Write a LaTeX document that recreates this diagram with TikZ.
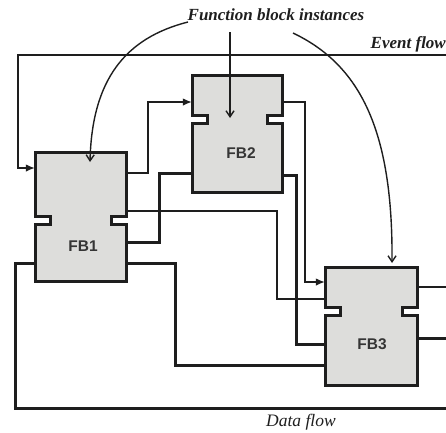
\documentclass[tikz,border=0pt]{standalone}
\usepackage{fontspec}
\setmainfont{Liberation Serif}
\newfontfamily\fbsans{Liberation Sans}
\usetikzlibrary{arrows.meta,calc}
\definecolor{blockfill}{RGB}{221,221,219}
\definecolor{ink}{RGB}{30,30,30}
\tikzset{
  fbline/.style={draw=ink,line width=3pt,fill=blockfill,line join=miter},
  blockarea/.style={draw=none,inner sep=0pt,rectangle},
  fblabel/.style={font=\fbsans\bfseries\fontsize{15.5}{15.5}\selectfont,text=ink!90,inner sep=0pt},
  evtline/.style={draw=ink,line width=1.3pt},
  datline/.style={draw=ink,line width=3pt},
  evtarrow/.style={-{Latex[length=9pt,width=7.5pt]}},
  ptr/.style={draw=ink,line width=1.4pt,-{Straight Barb[length=6pt,width=8pt]}},
  title/.style={font=\bfseries\itshape\fontsize{17}{17}\selectfont,text=ink,inner sep=0pt},
  flowlbl/.style={font=\itshape\fontsize{17.5}{17.5}\selectfont,text=ink,inner sep=0pt}
}
\newcommand\fbpath[6]{%
  \draw[fbline] (#1,#2) -- (#3,#2) -- (#3,#5) -- ({#3-15},#5) -- ({#3-15},#6) -- (#3,#6)
   -- (#3,#4) -- (#1,#4) -- (#1,#6) -- ({#1+15},#6) -- ({#1+15},#5) -- (#1,#5) -- cycle;}
\begin{document}
\begin{tikzpicture}[x=1pt,y=-1pt]
\useasboundingbox (0,0) rectangle (446,432);
% blocks
\fbpath{35}{152}{126}{281}{216.5}{224.5}
\fbpath{192}{75}{282}{192}{115}{123}
\fbpath{325}{267}{417}{385}{307}{315}
\node[blockarea,minimum width=91pt,minimum height=129pt] (fb1) at (80.5,216.5) {};
\node[blockarea,minimum width=90pt,minimum height=117pt] (fb2) at (237,133.5) {};
\node[blockarea,minimum width=92pt,minimum height=118pt] (fb3) at (371,326) {};
\node[fblabel] (fb1lbl) at (83,246) {FB1};
\node[fblabel] (fb2lbl) at (241,153) {FB2};
\node[fblabel] (fb3lbl) at (372,344) {FB3};
% texts
\node[title] (fbi) at (276,15) {Function block instances};
\node[title,anchor=east] (evlbl) at (446,44) {Event flow};
\node[flowlbl] (dflbl) at (301,422) {Data flow};
% free ends
\coordinate (evR) at (446,55);
\coordinate (dfR) at (446,408);
\coordinate (o1R) at (446,287);
\coordinate (o2R) at (446,338);
% event connectors
\draw[evtline,evtarrow] (evR) -- (18,55) |- (fb1.west |- 0,168);
\draw[evtline,evtarrow] (fb1.east |- 0,173) -- (148,173) |- (fb2.west |- 0,102);
\draw[evtline,evtarrow] (fb2.east |- 0,102) -- (305,102) |- (fb3.west |- 0,282);
\draw[evtline] (fb1.east |- 0,211) -- (277,211) |- (fb3.west |- 0,299);
\draw[evtline] (fb3.east |- 0,287) -- (o1R);
% data connectors
\draw[datline] (fb1.east |- 0,242) -- (159,242) |- (fb2.west |- 0,173);
\draw[datline] (fb2.east |- 0,175) -- (296,175) |- (fb3.west |- 0,344);
\draw[datline] (fb1.east |- 0,263) -- (175,263) |- (fb3.west |- 0,365);
\draw[datline] (fb1.west |- 0,263) -- (15,263) |- (dfR);
\draw[datline] (fb3.east |- 0,338) -- (o2R);
% pointers
\draw[ptr] (188,22) .. controls (125,38) and (92,80) .. (90,162);
\draw[ptr] (230,32) -- (230,118);
\draw[ptr] (293,33) .. controls (360,65) and (393,130) .. (392,263);
\end{tikzpicture}
\end{document}
